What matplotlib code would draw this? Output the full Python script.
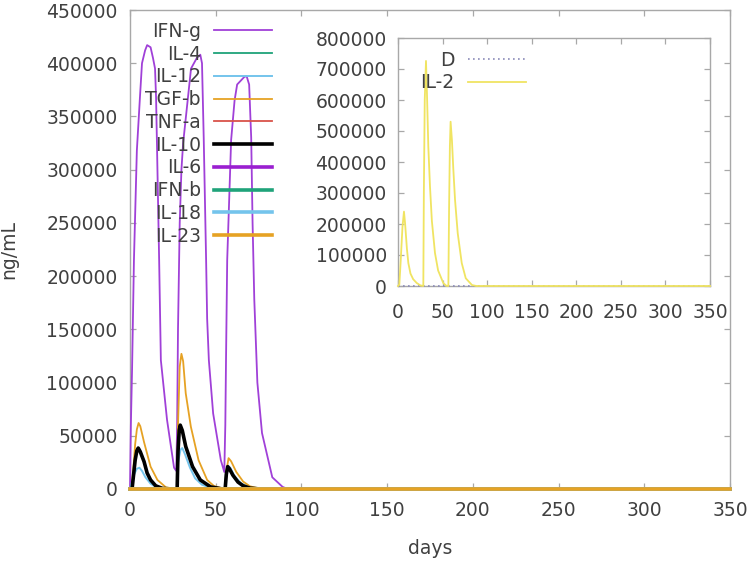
import matplotlib
matplotlib.use("Agg")
import matplotlib.pyplot as plt
from matplotlib.ticker import StrMethodFormatter, MultipleLocator

plt.rcParams['font.family'] = ['DejaVu Sans']

# ---------------- data ----------------
ifng_days = [0, 0.5, 1.2, 2.3, 4, 5.8, 7, 8.8, 10, 12, 13.4, 14.6, 15.2, 15.8, 17, 18, 21.6, 25.7, 27,
             27.5, 28, 29, 30, 31, 33.3, 35.6, 39, 41, 42, 43, 44.4, 45, 46, 48.5, 53, 55,
             55.6, 56, 56.7, 59, 61, 62.5, 66.6, 68, 69.5, 70.7, 71.5, 72.5, 74.3, 77, 83, 89, 92, 350]
ifng_vals = [0, 60000, 112000, 215000, 318000, 368000, 400000, 412000, 417000, 415000, 405000, 395000, 368000,
             318000, 215000, 121000, 65000, 20000, 17000,
             60000, 150000, 250000, 300000, 325000, 360000, 395000, 405000, 408000, 400000, 330000, 215000,
             160000, 121000, 71000, 27000, 16000,
             60000, 120000, 215000, 328000, 365000, 380000, 387000, 388000, 380000, 330000, 250000, 178000,
             100000, 52600, 11000, 2000, 0, 0]

tgfb_days = [0, 1, 2, 3, 4, 5, 6, 8.2, 12, 16, 21, 27,
             27.5, 28, 29, 30, 31, 32.5, 35.5, 40, 45, 49, 55,
             55.5, 56, 57.5, 59, 62, 66, 70, 76, 85, 350]
tgfb_vals = [0, 1000, 20000, 42000, 56000, 62000, 59000, 44000, 21000, 8500, 1500, 0,
             0, 60000, 115000, 127000, 120000, 90000, 58500, 27000, 8500, 2800, 0,
             0, 15000, 29000, 26000, 16000, 7000, 2500, 300, 0, 0]

il10_days = [0, 1.2, 2, 3, 4, 4.8, 6, 8.2, 10, 12, 15, 19, 25,
             27.5, 28, 28.7, 29.3, 30.5, 32.5, 36.5, 41, 47, 54,
             55.5, 56.2, 57, 58, 60, 63, 66, 70, 76, 350]
il10_vals = [0, 0, 12000, 27000, 36000, 38500, 35000, 25700, 15000, 8500, 3000, 500, 0,
             0, 35000, 55000, 60000, 55000, 40000, 21000, 8500, 2000, 0,
             0, 14000, 21000, 19000, 13000, 6500, 3000, 800, 0, 0]

il12_days = [0, 1, 2.5, 4, 5.5, 7, 9, 12, 15, 20, 27,
             27.5, 28, 29.5, 30.5, 32, 35, 38, 42, 48, 55,
             55.5, 56, 57, 58.5, 61, 65, 70, 80, 350]
il12_vals = [0, 6000, 14000, 19000, 20000, 17000, 11000, 5000, 2000, 300, 0,
             0, 25000, 37000, 38500, 33000, 20000, 10000, 4000, 800, 0,
             0, 15000, 22000, 20000, 12000, 5000, 1500, 0, 0]

zero_days = [0, 350]
zero_vals = [0, 0]

il2_days = [0, 1.5, 3, 5, 6.7, 8, 10, 11.6, 14, 17, 21, 25, 28.4,
            29, 30, 31.4, 32.5, 34, 35.9, 38, 41.5, 45, 50.8, 54, 56.5,
            57.3, 58.2, 59, 60.5, 62, 64, 67, 71.5, 76, 83, 88, 350]
il2_vals = [0, 5000, 80000, 190000, 240000, 200000, 120000, 74000, 40000, 22000, 9700, 2000, 0,
            300000, 600000, 726000, 620000, 450000, 320000, 210000, 106000, 50000, 9700, 1000, 0,
            250000, 450000, 530000, 470000, 380000, 277000, 170000, 74000, 25000, 3000, 0, 0]

main_series = [
    ("IFN-g", ifng_days, ifng_vals, "#a040d8", 1.3),
    ("IL-4", zero_days, zero_vals, "#1fa37a", 1.3),
    ("IL-12", il12_days, il12_vals, "#74c4ec", 1.4),
    ("TGF-b", tgfb_days, tgfb_vals, "#e6a224", 1.3),
    ("TNF-a", zero_days, zero_vals, "#d9534a", 1.3),
    ("IL-10", il10_days, il10_vals, "#000000", 2.6),
    ("IL-6", zero_days, zero_vals, "#9a1fd0", 2.6),
    ("IFN-b", zero_days, zero_vals, "#1fa37a", 2.6),
    ("IL-18", zero_days, zero_vals, "#74c4ec", 2.6),
    ("IL-23", zero_days, zero_vals, "#e6a224", 2.6),
]

x_ticks = [0, 50, 100, 150, 200, 250, 300, 350]

# ---------------- figure ----------------
fig = plt.figure(figsize=(7.49, 5.61), dpi=100)
W, H = 749, 561
ax = fig.add_axes([130 / W, 1 - 489 / H, 600 / W, 479 / H])

for name, d, v, c, lw in main_series:
    ax.plot(d, v, color=c, lw=lw, label=name, solid_joinstyle='round', zorder=3, clip_on=False)

spine_col = "#a8a8a8"
text_col = "#404040"
fs = 13.5


def style(a, xpad, ypad):
    for s in a.spines.values():
        s.set_color(spine_col)
        s.set_linewidth(1.0)
    a.tick_params(direction='in', length=4.5, width=0.9, color=spine_col,
                  top=True, right=True, labelsize=fs, labelcolor=text_col)
    a.tick_params(axis='x', pad=xpad)
    a.tick_params(axis='y', pad=ypad)
    a.yaxis.set_major_formatter(StrMethodFormatter('{x:.0f}'))


ax.set_xlim(0, 350)
ax.set_ylim(0, 450000)
ax.set_xticks(x_ticks)
ax.yaxis.set_major_locator(MultipleLocator(50000))
style(ax, 9, 9)
ax.set_xlabel("days", fontsize=fs, color=text_col, labelpad=13)
ax.set_ylabel("ng/mL", fontsize=fs, color=text_col, labelpad=20)

leg = ax.legend(loc='upper right', bbox_to_anchor=(0.237, 0.975), markerfirst=False,
                frameon=False, fontsize=fs, handlelength=3.1, handletextpad=0.7,
                labelspacing=0.2, borderaxespad=0, borderpad=0)
for t in leg.get_texts():
    t.set_color(text_col)

# ---------------- inset ----------------
ax2 = fig.add_axes([398 / W, 1 - 286 / H, 312 / W, 248 / H])
ax2.set_facecolor('white')
ax2.plot(zero_days, zero_vals, color="#8a8ab8", lw=1.2, ls=(0, (1, 2)), label="D", zorder=3, clip_on=False)
ax2.plot(il2_days, il2_vals, color="#f0e462", lw=1.3, label="IL-2", zorder=3, clip_on=False)
ax2.set_xlim(0, 350)
ax2.set_ylim(0, 800000)
ax2.set_xticks(x_ticks)
ax2.yaxis.set_major_locator(MultipleLocator(100000))
style(ax2, 12, 8)
leg2 = ax2.legend(loc='upper right', bbox_to_anchor=(0.41, 0.948), markerfirst=False,
                  frameon=False, fontsize=fs, handlelength=3.1, handletextpad=0.7,
                  labelspacing=0.18, borderaxespad=0, borderpad=0)
for t in leg2.get_texts():
    t.set_color(text_col)

fig.savefig("out.png", dpi=100)
